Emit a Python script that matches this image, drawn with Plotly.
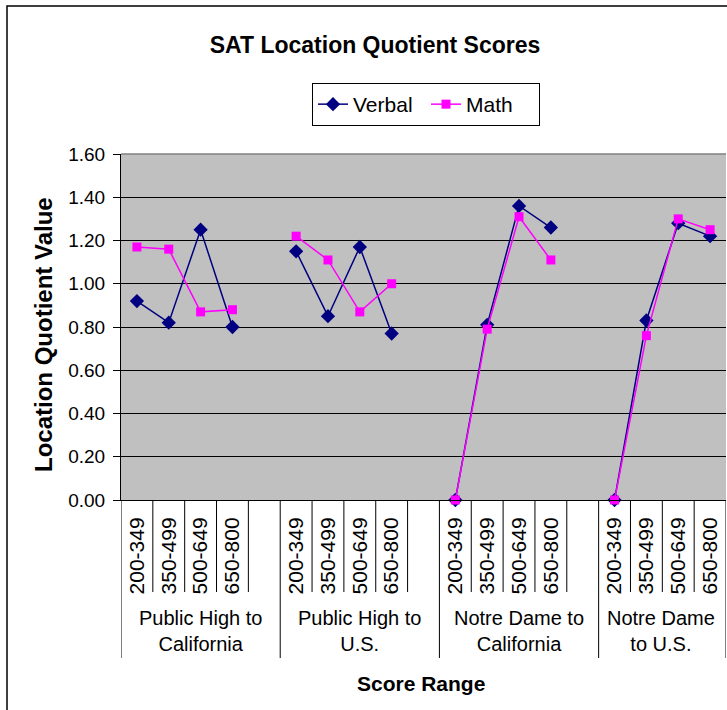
import plotly.graph_objects as go

# ---- data ----
score_ranges = ["200-349", "350-499", "500-649", "650-800"]
groups = ["Public High to<br>California", "Public High to<br>U.S.",
          "Notre Dame to<br>California", "Notre Dame<br>to U.S."]

verbal_public_ca = [0.92, 0.82, 1.25, 0.80]
verbal_public_us = [1.15, 0.85, 1.17, 0.77]
verbal_nd_ca = [0.00, 0.81, 1.36, 1.26]
verbal_nd_us = [0.00, 0.83, 1.28, 1.22]

math_public_ca = [1.17, 1.16, 0.87, 0.88]
math_public_us = [1.22, 1.11, 0.87, 1.00]
math_nd_ca = [0.00, 0.79, 1.31, 1.11]
math_nd_us = [0.00, 0.76, 1.30, 1.25]

verbal_groups = [verbal_public_ca, verbal_public_us, verbal_nd_ca, verbal_nd_us]
math_groups = [math_public_ca, math_public_us, math_nd_ca, math_nd_us]

SLOT = 5  # 4 categories + 1 blank per group


def build(series_groups):
    xs, ys = [], []
    for g, vals in enumerate(series_groups):
        for i, v in enumerate(vals):
            xs.append(g * SLOT + i)
            ys.append(v)
        if g < len(series_groups) - 1:
            xs.append(g * SLOT + len(vals))
            ys.append(None)
    return xs, ys


FONT = "Liberation Sans, Arial, sans-serif"

fig = go.Figure()
vx, vy = build(verbal_groups)
mx, my = build(math_groups)
fig.add_trace(go.Scatter(x=vx, y=vy, name="Verbal", mode="lines+markers",
                         connectgaps=False, cliponaxis=False,
                         line=dict(color="#000080", width=1.5),
                         marker=dict(symbol="diamond", size=11, color="#000080")))
fig.add_trace(go.Scatter(x=mx, y=my, name="Math", mode="lines+markers",
                         connectgaps=False, cliponaxis=False,
                         line=dict(color="#FF00FF", width=1.5),
                         marker=dict(symbol="square", size=9, color="#FF00FF")))

tickvals = [g * SLOT + i for g in range(len(groups)) for i in range(len(score_ranges))]
ticktext = [score_ranges[i] for g in range(len(groups)) for i in range(len(score_ranges))]
n_slots = SLOT * len(groups) - 1

L, R, T, B = 121, 1, 154, 210
W, H = 727, 710
pw = W - L - R
ph = H - T - B


def px_to_px(x):
    return (x - L) / pw


def py_to_py(y):
    return (H - B - y) / ph


shapes = []
# separators below the axis
for k in range(n_slots + 1):
    xb = k - 0.5
    long_line = (k % SLOT == 0) or (k == n_slots)
    shapes.append(dict(type="line", xref="x", yref="paper", x0=xb, x1=xb,
                       y0=0, y1=py_to_py(658 if long_line else 592),
                       line=dict(color="black", width=1)))
# top gray border of plot area
shapes.append(dict(type="line", xref="paper", yref="paper", x0=0, x1=1, y0=1, y1=1,
                   line=dict(color="#808080", width=1.5)))
# outer chart border
shapes.append(dict(type="rect", xref="paper", yref="paper",
                   x0=px_to_px(7), x1=px_to_px(760), y0=py_to_py(6), y1=py_to_py(760),
                   line=dict(color="black", width=1.5)))

annotations = []
group_centers = [2, 7, 12, 16.47]
for gc, gl in zip(group_centers, groups):
    annotations.append(dict(x=gc, y=py_to_py(631), xref="x", yref="paper",
                            text=gl, showarrow=False, xanchor="center", yanchor="middle",
                            font=dict(family=FONT, size=20, color="black")))
annotations.append(dict(x=px_to_px(421), y=py_to_py(683), xref="paper", yref="paper",
                        text="<b>Score Range</b>", showarrow=False,
                        xanchor="center", yanchor="middle",
                        font=dict(family=FONT, size=21, color="black")))
annotations.append(dict(x=px_to_px(43), y=py_to_py(335), xref="paper", yref="paper",
                        text="<b>Location Quotient Value</b>", showarrow=False, textangle=-90,
                        xanchor="center", yanchor="middle",
                        font=dict(family=FONT, size=24, color="black")))

fig.update_layout(
    width=W, height=H,
    margin=dict(l=L, r=R, t=T, b=B, pad=0),
    paper_bgcolor="white",
    plot_bgcolor="#C0C0C0",
    font=dict(family=FONT, color="black"),
    title=dict(text="<b>SAT Location Quotient Scores</b>", x=px_to_px(375), xref="paper",
               xanchor="center", y=1 - 45 / H, yref="container", yanchor="middle",
               font=dict(family=FONT, size=23, color="black")),
    legend=dict(orientation="h", x=px_to_px(312), y=py_to_py(83), xanchor="left",
                yanchor="top", bordercolor="black", borderwidth=1, bgcolor="white",
                font=dict(family=FONT, size=21, color="black"),
                entrywidth=68, entrywidthmode="pixels", tracegroupgap=0),
    showlegend=True,
    shapes=shapes,
    annotations=annotations,
    xaxis=dict(range=[-0.5, n_slots - 0.5 + 1e-9], tickmode="array", tickvals=tickvals,
               ticktext=ticktext, tickangle=-90, showgrid=False, zeroline=False,
               showline=True, linecolor="black", linewidth=1, ticks="",
               ticklabelstandoff=8,
               tickfont=dict(family=FONT, size=21, color="black")),
    yaxis=dict(range=[0, 1.6], dtick=0.2, tickformat=".2f", showgrid=True,
               gridcolor="black", gridwidth=1, zeroline=False, showline=True,
               linecolor="black", linewidth=1, ticks="outside", ticklen=7,
               tickcolor="black", ticklabelstandoff=4,
               tickfont=dict(family=FONT, size=19, color="black")),
)

fig.write_html("out.html", config={"displayModeBar": False},
               post_script="document.body.style.margin='0';document.body.style.padding='0';")
